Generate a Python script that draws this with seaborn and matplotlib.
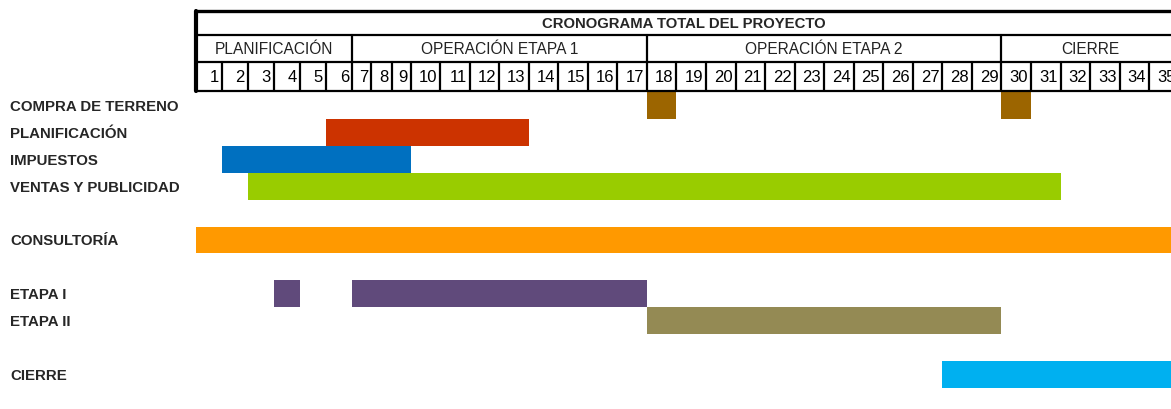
import numpy as np
import pandas as pd
import seaborn as sns
import matplotlib
matplotlib.use('Agg')
import matplotlib.pyplot as plt

# Data: tasks (rows, blanks included) and their bar segments in month columns
task_names = ['COMPRA DE TERRENO', 'PLANIFICACIÓN', 'IMPUESTOS', 'VENTAS Y PUBLICIDAD', '',
              'CONSULTORÍA', '', 'ETAPA I', 'ETAPA II', '', 'CIERRE']
seg_task = ['COMPRA DE TERRENO', 'COMPRA DE TERRENO', 'PLANIFICACIÓN', 'IMPUESTOS',
            'VENTAS Y PUBLICIDAD', 'CONSULTORÍA', 'ETAPA I', 'ETAPA I', 'ETAPA II', 'CIERRE']
seg_start = [18, 30, 6, 2, 3, 1, 4, 7, 18, 28]
seg_end = [18, 30, 13, 9, 31, 36, 4, 17, 29, 36]

months = list(range(1, 36))
phase_names = ['PLANIFICACIÓN', 'OPERACIÓN ETAPA 1', 'OPERACIÓN ETAPA 2', 'CIERRE']
phase_first = [1, 7, 18, 30]
phase_last = [6, 17, 29, 35]
title = 'CRONOGRAMA TOTAL DEL PROYECTO'

task_colors = {
    'COMPRA DE TERRENO': '#9C6500',
    'PLANIFICACIÓN': '#CC3300',
    'IMPUESTOS': '#0070C0',
    'VENTAS Y PUBLICIDAD': '#99CC00',
    'CONSULTORÍA': '#FF9900',
    'ETAPA I': '#604A7B',
    'ETAPA II': '#948A54',
    'CIERRE': '#00B0F0',
}

# spreadsheet column widths (px)
col_widths = [26] * 6 + [19, 21, 19, 29] + [29.55] * 26
edges = np.concatenate([[0], np.cumsum(col_widths)])

sns.set_style('white')
plt.rcParams['font.family'] = ['Liberation Sans', 'DejaVu Sans']

W, H = 1171, 409
fig = plt.figure(figsize=(W / 100, H / 100), dpi=100)
x0, head_h, row_h = 196, 92, 26.9
xmax = W - x0

# ---- Gantt body ----
ax = fig.add_axes([x0 / W, 0, (W - x0) / W, (H - head_h) / H])
df = pd.DataFrame({'task': seg_task, 'start': seg_start, 'end': seg_end})
df['row'] = df['task'].map({t: i for i, t in enumerate(task_names) if t})
df['left'] = edges[df['start'] - 1]
df['width'] = edges[df['end']] - df['left']
ax.barh(df['row'], df['width'], left=df['left'], height=1.0,
        color=df['task'].map(task_colors), linewidth=0)
ax.set_xlim(0, xmax)
ax.set_ylim(-0.5 + (H - head_h) / row_h, -0.5)
ax.set_xticks([])
ax.set_yticks(range(len(task_names)))
ax.set_yticklabels(task_names, fontsize=10.8, fontweight='bold')
for lab in ax.get_yticklabels():
    lab.set_ha('left')
ax.tick_params(axis='y', length=0, pad=(x0 - 10) * 0.72)
for s in ax.spines.values():
    s.set_visible(False)

# ---- Header table ----
hx = fig.add_axes([x0 / W, (H - head_h) / H, (W - x0) / W, head_h / H])
hx.set_xlim(0, xmax)
hx.set_ylim(head_h, 0)
hx.axis('off')
ys = [11, 34.5, 62, 91]
lw = 1.6
for y in ys:
    hx.plot([0, xmax], [y, y], color='black', lw=lw if y != 11 else 2.4, clip_on=False,
            solid_capstyle='butt')
hx.plot([0, 0], [ys[0], ys[-1]], color='black', lw=3, clip_on=False)
for f in phase_first[1:]:
    hx.plot([edges[f - 1]] * 2, [ys[1], ys[2]], color='black', lw=lw)
for e in edges[1:36]:
    hx.plot([e, e], [ys[2], ys[3]], color='black', lw=lw)
hx.text(edges[0] + 0.5 * xmax, (ys[0] + ys[1]) / 2 + 1, title, ha='center', va='center',
        fontsize=10.7, fontweight='bold')
for name, a, b in zip(phase_names, phase_first, phase_last):
    hx.text((edges[a - 1] + edges[b]) / 2, (ys[1] + ys[2]) / 2 + 1, name,
            ha='center', va='center', fontsize=11.2, color='#222222')
for m in months:
    hx.text(edges[m] - 3, (ys[2] + ys[3]) / 2 + 1, str(m), ha='right', va='center',
            fontsize=12, color='black', clip_on=True)

fig.savefig('out.png', dpi=100)
